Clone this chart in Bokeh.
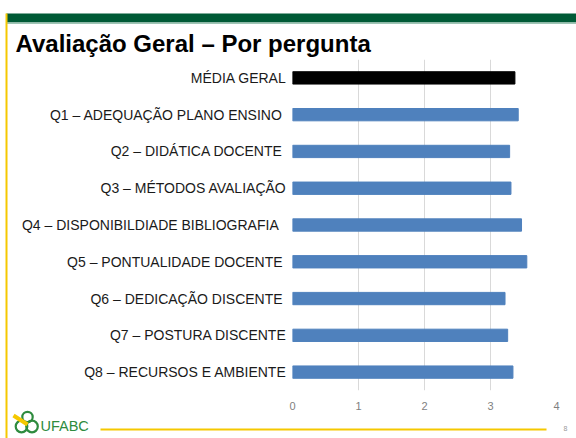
from bokeh.plotting import figure
from bokeh.layouts import column
from bokeh.models import Range1d, FactorRange, FixedTicker, ColumnDataSource
from bokeh.core.properties import value
from bokeh.embed import file_html
from bokeh.resources import INLINE

categories = ["MÉDIA GERAL",
              "Q1 – ADEQUAÇÃO  PLANO ENSINO",
              "Q2 – DIDÁTICA  DOCENTE",
              "Q3 – MÉTODOS AVALIAÇÃO",
              "Q4 – DISPONIBILDIADE  BIBLIOGRAFIA ",
              "Q5 – PONTUALIDADE  DOCENTE",
              "Q6 – DEDICAÇÃO  DISCENTE",
              "Q7 – POSTURA DISCENTE",
              "Q8 – RECURSOS E AMBIENTE"]
values = [3.37, 3.42, 3.29, 3.31, 3.47, 3.55, 3.22, 3.26, 3.34]
bar_colors = ["#000000"] + ["#4F81BD"] * 8
x_ticks = [0, 1, 2, 3, 4]
title_text = "Avaliação Geral – Por pergunta"

W, H = 576, 438
L, R, T, B = 292, 20, 59, 48

p = figure(width=W, height=H, output_backend="svg", toolbar_location=None,
           y_range=FactorRange(factors=categories[::-1]), x_range=Range1d(0, 4),
           min_border_left=L, min_border_right=R, min_border_top=T, min_border_bottom=B,
           title=None)
p.frame_align = False
p.outline_line_color = None
p.background_fill_color = "white"
p.border_fill_color = "white"

src = ColumnDataSource(dict(cat=categories, val=values, col=bar_colors))
p.hbar(y="cat", right="val", left=0, height=0.335, fill_color="col", line_color="col", source=src)

p.ygrid.grid_line_color = None
p.xgrid.grid_line_color = "#D9D9D9"
p.xgrid.ticker = FixedTicker(ticks=x_ticks)

p.xaxis.ticker = FixedTicker(ticks=x_ticks)
p.xaxis.axis_line_color = None
p.xaxis.major_tick_line_color = None
p.xaxis.major_tick_out = 0
p.xaxis.minor_tick_line_color = None
p.xaxis.minor_tick_out = 0
p.xaxis.major_label_standoff = 11
p.xaxis.major_label_text_font = "Liberation Sans"
p.xaxis.major_label_text_font_size = "11px"
p.xaxis.major_label_text_color = "#7F7F7F"

p.yaxis.axis_line_color = None
p.yaxis.major_tick_line_color = None
p.yaxis.major_tick_out = 0
p.yaxis.minor_tick_line_color = None
p.yaxis.minor_tick_out = 0
p.yaxis.major_label_standoff = 6
p.yaxis.major_label_text_font = "Liberation Sans"
p.yaxis.major_label_text_font_size = "14px"
p.yaxis.major_label_text_color = "#1a1a1a"

# transparent page overlay for the slide decorations (page-pixel coordinates)
d = figure(width=W, height=H, output_backend="svg", toolbar_location=None,
           x_range=Range1d(0, W), y_range=Range1d(H, 0),
           x_axis_type=None, y_axis_type=None, min_border=0, title=None)
d.frame_align = False
d.outline_line_color = None
d.grid.visible = False
d.background_fill_alpha = 0
d.border_fill_alpha = 0
d.margin = (-H, 0, 0, 0)

green = "#005A36"
yellow = "#F5C800"
d.quad(left=[6], right=[576], top=[13], bottom=[22], fill_color=green, line_color=None)
d.quad(left=[6], right=[576], top=[22], bottom=[23.5], fill_color="#9FC5B5", line_color=None)
d.quad(left=[5], right=[7], top=[13], bottom=[438], fill_color=yellow, line_color=None)
d.quad(left=[100], right=[546], top=[428], bottom=[430], fill_color=yellow, line_color=None)

d.text(x=[15], y=[43], text=[title_text], text_font=value("Liberation Sans"),
       text_font_style="bold", text_font_size="24px", text_color="black",
       text_baseline="alphabetic", text_align="left")

logo_green = "#2E8B3E"
d.circle(x=[27, 21, 31.5], y=[416.5, 426, 426], radius=[5.2, 5.8, 5.8],
         fill_color=None, line_color=logo_green, line_width=2.2)
d.line(x=[13, 27], y=[415, 424], line_color=yellow, line_width=4)
d.text(x=[40], y=[425], text=["UFABC"], text_font=value("Liberation Sans"),
       text_font_size="14.5px", text_color=logo_green,
       text_baseline="alphabetic", text_align="left")
d.text(x=[565], y=[428], text=["8"], text_font=value("Liberation Sans"),
       text_font_size="7px", text_color="#999999",
       text_baseline="alphabetic", text_align="center")

layout = column(p, d)
open("out.html", "w").write(file_html(layout, INLINE))
